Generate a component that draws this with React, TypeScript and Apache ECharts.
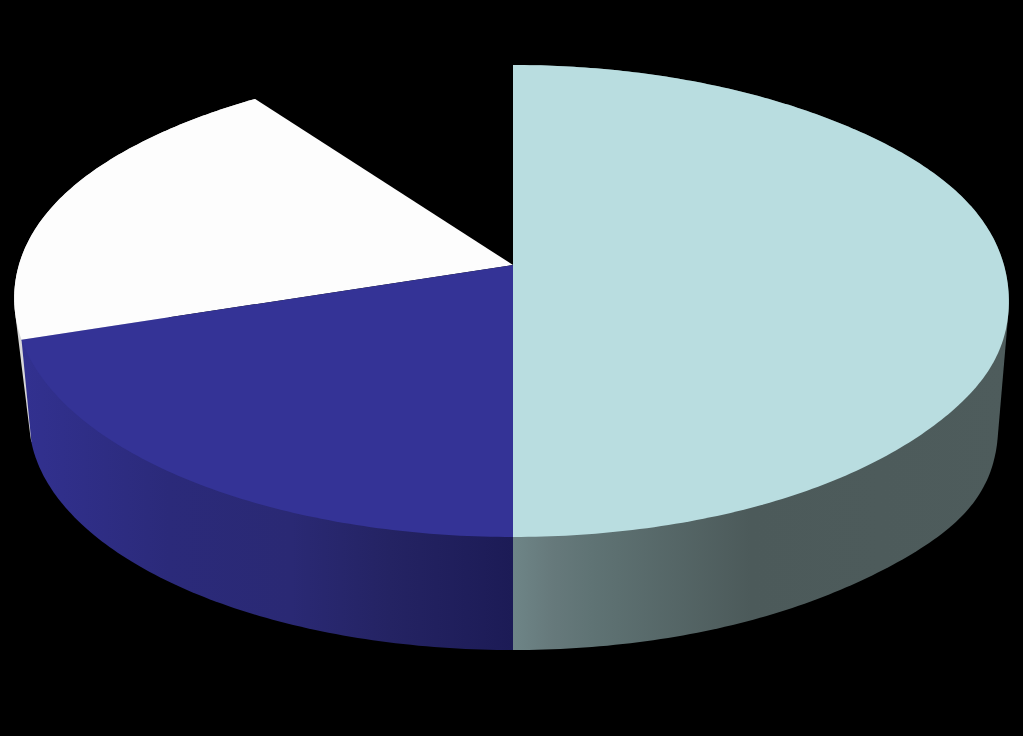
import React, { useEffect, useRef } from "react";
import * as echarts from "echarts";

const sliceNames = ["Slice 1", "Slice 2", "Slice 3", "Slice 4"];
const sliceValues = [50, 20, 20, 10];
const faceColors = ["#b9dde0", "#343396", "#fdfdfd", "#000000"];
const wallStops: [number, string][][] = [
  [[0, "#6e8587"], [0.08, "#66797b"], [0.16, "#5f7374"], [0.48, "#4c5a5a"], [1, "#4e5c5c"]],
  [[0, "#323190"], [0.3, "#2b2a7a"], [0.55, "#2a2974"], [0.75, "#242363"], [1, "#1c1b56"]],
  [[0, "#d8d8d8"], [1, "#d8d8d8"]],
  [[0, "#000000"], [1, "#000000"]],
];
const wallExtent: [number, number][] = [[513, 1009], [21, 513], [14, 260], [255, 513]];

const total = sliceValues.reduce((a, b) => a + b, 0);
const startAngle = (i: number) =>
  (sliceValues.slice(0, i).reduce((a, b) => a + b, 0) / total) * Math.PI * 2;

// Perspective projection of a unit circle seen from above, with small outward
// bulges (angle in degrees above the horizontal, amplitude, spread) where the
// original's outline is squarer than a true ellipse.
const CX = 513;
type Rim = { cy: number; a: number; b: number; k: number; ey: number; shiftL: number; shiftR: number; bumps: number[][] };
const top: Rim = {
  cy: 265, a: 230.5, b: 491, k: 0.1525, ey: 301, shiftL: 1.3, shiftR: 2.8,
  bumps: [[25, 5, 14], [-16, 3, 10], [155, 3.5, 14]],
};
const bottom: Rim = {
  cy: 369.4, a: 218.9, b: 472, k: 0.22, ey: 420, shiftL: 0, shiftR: 0,
  bumps: [[-22, 8, 11]],
};
const project = (p: Rim, t: number): number[] => {
  const u = Math.sin(t);
  const v = Math.cos(t);
  const w = 1 + p.k * v;
  let x = CX + (p.b * u) / w - (u > 0 ? p.shiftR : p.shiftL) * Math.abs(u);
  let y = p.cy - (p.a * v) / w;
  const dx = x - CX;
  const dy = p.ey - y;
  const len = Math.hypot(dx, dy) || 1;
  const phi = (Math.atan2(dy * 2.1, dx) * 180) / Math.PI;
  let r = 0;
  for (const [c, amp, s] of p.bumps) {
    const d = ((phi - c + 540) % 360) - 180;
    r += amp * Math.exp(-(d * d) / (2 * s * s));
  }
  x += (r * dx) / len;
  y -= (r * dy) / len;
  return [x, y];
};
const arc = (p: Rim, from: number, to: number): number[][] => {
  const n = Math.max(2, Math.ceil(((to - from) / Math.PI) * 240));
  const out: number[][] = [];
  for (let i = 0; i <= n; i++) out.push(project(p, from + ((to - from) * i) / n));
  return out;
};
// The wall is what the rim sweeps on its way down, so its silhouette is the
// hull of both rims; the part over the top face is painted over by the faces.
const hull = (points: number[][]): number[][] => {
  const pts = [...points].sort((a, b) => a[0] - b[0] || a[1] - b[1]);
  const cross = (o: number[], a: number[], b: number[]) =>
    (a[0] - o[0]) * (b[1] - o[1]) - (a[1] - o[1]) * (b[0] - o[0]);
  const half = (list: number[][]) => {
    const out: number[][] = [];
    for (const p of list) {
      while (out.length >= 2 && cross(out[out.length - 2], out[out.length - 1], p) <= 0) out.pop();
      out.push(p);
    }
    out.pop();
    return out;
  };
  return [...half(pts), ...half([...pts].reverse())];
};

const renderWall = (params: any, api: any) => {
  const i = params.dataIndex;
  const from = startAngle(i);
  const to = from + (api.value(1) / total) * Math.PI * 2;
  const [x0, x1] = wallExtent[i];
  const fill = new echarts.graphic.LinearGradient(
    x0, 0, x1, 0,
    wallStops[i].map(([offset, color]) => ({ offset, color })),
    true
  );
  return {
    type: "polygon",
    z2: 3 - i,
    shape: { points: hull([...arc(top, from, to), ...arc(bottom, from, to)]) },
    style: { fill },
  };
};

const renderFace = (params: any, api: any) => {
  const i = params.dataIndex;
  const from = startAngle(i);
  const to = from + (api.value(1) / total) * Math.PI * 2;
  return {
    type: "polygon",
    z2: 3 - i,
    shape: { points: [[CX, top.cy], ...arc(top, from, to)] },
    style: { fill: faceColors[i] },
  };
};

export default function App() {
  const ref = useRef<HTMLDivElement>(null);
  useEffect(() => {
    document.body.style.margin = "0";
    document.body.style.background = "#000";
    const chart = echarts.init(ref.current!, null, { renderer: "svg" });
    const data = sliceNames.map((name, i) => ({ name, value: [i, sliceValues[i]] }));
    chart.setOption({
      animation: false,
      backgroundColor: "#000000",
      series: [
        { type: "custom", coordinateSystem: "none", name: "walls", z: 1, data, renderItem: renderWall, silent: true },
        { type: "custom", coordinateSystem: "none", name: "faces", z: 2, data, renderItem: renderFace, silent: true },
      ],
    });
    return () => chart.dispose();
  }, []);
  return <div ref={ref} style={{ width: 1023, height: 736 }} />;
}
